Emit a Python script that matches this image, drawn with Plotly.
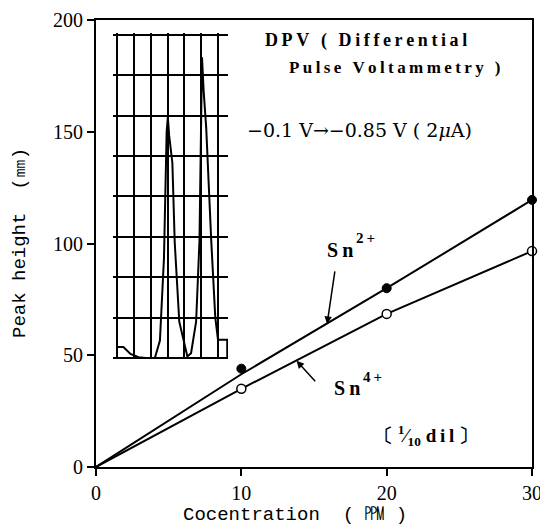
import plotly.graph_objects as go

# ---- data ----
conc_points = [10, 20, 30]
sn2_points = [44, 80, 119.5]
sn4_points = [35, 68.5, 96.6]

conc_line = [0, 10, 20, 30]
sn2_line = [0, 41.5, 80, 119.5]
sn4_line = [0, 35, 68.5, 96.6]

x_ticks = [0, 10, 20, 30]
y_ticks = [0, 50, 100, 150, 200]

# DPV recorder trace (inset), in chart-paper grid units
dpv_x = [0, 0, 0.38, 0.8, 1.28, 1.7, 2.25, 2.55, 2.79, 2.95, 3.02, 3.1, 3.29, 3.43, 3.7, 4.1,
         4.18, 4.4, 4.7, 4.9, 5.0, 5.05, 5.15, 5.3, 5.6, 5.84, 6.0, 6.55, 6.55, 6.0]
dpv_y = [0, 0.27, 0.27, 0.1, 0.02, 0, 0, 0.43, 2.47, 5.6, 5.97, 5.5, 4.83, 2.86, 0.9, 0.12,
         0.04, 0.12, 0.9, 2.9, 6.0, 7.45, 6.6, 5.7, 2.9, 1.0, 0.45, 0.45, 0, 0]

# ---- layout helpers (window pixel -> paper) ----
L, R, T, B = 96, 532, 20, 467
W, H = R - L, B - T
FIG_W, FIG_H = 540, 529


def px(x):
    return (x - L) / W


def py(y):
    return (B - y) / H


serif = "Liberation Serif"
mono = "Liberation Mono"

fig = go.Figure()

fig.add_trace(go.Scatter(x=conc_line, y=sn2_line, mode="lines",
                         line=dict(color="black", width=2), showlegend=False))
fig.add_trace(go.Scatter(x=conc_line, y=sn4_line, mode="lines",
                         line=dict(color="black", width=2), showlegend=False))
fig.add_trace(go.Scatter(x=conc_points, y=sn2_points, mode="markers",
                         marker=dict(color="black", size=9, line=dict(color="black", width=1)),
                         cliponaxis=False, showlegend=False))
fig.add_trace(go.Scatter(x=conc_points, y=sn4_points, mode="markers",
                         marker=dict(color="white", size=9, line=dict(color="black", width=1.5)),
                         cliponaxis=False, showlegend=False))

# inset DPV trace
fig.add_trace(go.Scatter(x=dpv_x, y=dpv_y, mode="lines", xaxis="x2", yaxis="y2",
                         line=dict(color="black", width=2), showlegend=False))

axis_common = dict(showline=True, linecolor="black", linewidth=2, mirror=True,
                   ticks="outside", ticklen=7, tickwidth=2, tickcolor="black",
                   showgrid=False, zeroline=False, automargin=False,
                   ticklabeloverflow="allow",
                   tickfont=dict(family=serif, size=20, color="black"))

# inset: grid rows between y=35 px (top) and y=358 px (bottom)
row = (358 - 35) / 8
fig.update_layout(
    width=FIG_W, height=FIG_H,
    margin=dict(l=L, r=FIG_W - R, t=T, b=FIG_H - B, autoexpand=False),
    paper_bgcolor="white", plot_bgcolor="white",
    xaxis=dict(range=[0, 30], tickvals=x_ticks, **axis_common),
    yaxis=dict(range=[0, 200], tickvals=y_ticks, **axis_common),
    xaxis2=dict(domain=[px(113), px(228)], range=[-0.238, 6.595], anchor="y2",
                showgrid=True, gridcolor="black", gridwidth=1.5, dtick=1, tick0=0,
                showticklabels=False, zeroline=False, showline=False, ticks="",
                automargin=False),
    yaxis2=dict(domain=[py(358 + 0.03 * row), py(35 - 0.06 * row)], range=[-0.03, 8.06],
                anchor="x2",
                showgrid=True, gridcolor="black", gridwidth=1.5, dtick=1, tick0=0,
                showticklabels=False, zeroline=False, showline=False, ticks="",
                automargin=False),
)

ann = []


def txt(text, x, y, family, size, bold=False, anchor="left", angle=0):
    f = dict(family=family, size=size, color="black")
    if bold:
        f["weight"] = "bold"
    ann.append(dict(text=text, x=px(x), y=py(y), xref="paper", yref="paper",
                    showarrow=False, xanchor=anchor, yanchor="middle",
                    textangle=angle, font=f))


txt("Peak height  (㎜)", 20, 243, mono, 19, anchor="center", angle=-90)
txt("Cocentration  ( ㏙ )", 295, 515, mono, 19, anchor="center")
sp = "\u2009"
txt(sp.join("DPV ( Differential"), 263, 40, serif, 18, bold=True)
txt(sp.join("Pulse Voltammetry )"), 287, 67, serif, 17, bold=True)
txt("−0.1 V→−0.85 V ( 2<i>μ</i>A)", 245, 130, "DejaVu Serif", 19)
txt("S\u2009n", 325, 250, serif, 20, bold=True)
txt("2\u2009+", 354, 238, serif, 15, bold=True)
txt("S\u2009n", 332, 388, serif, 20, bold=True)
txt("4\u2009+", 361, 377, serif, 15, bold=True)
txt("〔 <sup>1</sup>⁄<sub>10</sub> d\u2009i\u2009l 〕", 372, 435, serif, 19, bold=True)

# arrows
ann.append(dict(text="", x=15.9, y=64, xref="x", yref="y", showarrow=True,
                ax=8, ay=-54, arrowhead=2, arrowsize=1, arrowwidth=1.5, arrowcolor="black"))
ann.append(dict(text="", x=13.8, y=47.5, xref="x", yref="y", showarrow=True,
                ax=20, ay=22, arrowhead=2, arrowsize=1, arrowwidth=1.5, arrowcolor="black"))

fig.update_layout(annotations=ann)

# remove the page's default body margin and scrollbars so the 540x529 figure fills the window
page_js = ("document.documentElement.style.overflow='hidden';"
           "document.body.style.margin='0';document.body.style.overflow='hidden';")
fig.write_html("out.html", post_script=page_js, config={"displayModeBar": False})
